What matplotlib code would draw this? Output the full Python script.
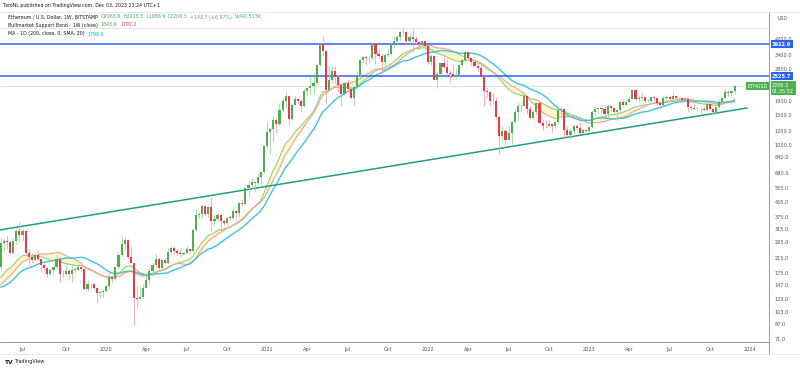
import matplotlib
matplotlib.use('Agg')
import matplotlib.pyplot as plt
import matplotlib.dates as mdates
from matplotlib.ticker import FixedLocator, FixedFormatter, NullLocator
from matplotlib.transforms import blended_transform_factory
from matplotlib.lines import Line2D
import numpy as np
import pandas as pd

# ---------------- data (weekly ETHUSD, Bitstamp) ----------------
# closes before the visible window (only used to warm up the indicators)
warmup_start = '2018-10-15'
warmup_closes = [206, 203, 211, 211, 175, 113, 113, 91, 85, 132, 133, 155, 117, 119, 114, 107,
                 120, 144, 137, 127, 133, 137, 134, 141, 185, 167, 170, 157, 162, 188]

first_week = '2019-05-13'
first_open = 188.0

closes_2019 = [262, 268, 266, 230, 268, 310, 292, 307, 228, 218, 207, 222, 211, 195, 187, 171,
               181, 188, 211, 173, 171, 180, 172, 182, 182, 189, 184, 141, 151, 150, 142, 132, 134, 136]
highs_2019 = [285, 280, 288, 268, 280, 315, 350, 320, 315, 240, 228, 228, 237, 215, 200, 190,
              185, 190, 225, 211, 182, 197, 185, 197, 190, 197, 190, 185, 158, 152, 152, 144, 136, 140]
lows_2019 = [185, 235, 240, 225, 225, 260, 265, 270, 225, 195, 200, 205, 205, 180, 180, 165,
             170, 172, 185, 155, 165, 169, 158, 155, 175, 180, 178, 139, 137, 143, 140, 116, 124, 126]

closes_2020 = [146, 166, 160, 189, 223, 260, 274, 218, 200, 124, 122, 125, 143, 158, 180, 194, 210,
               187, 207, 200, 231, 244, 234, 228, 225, 228, 240, 236, 311, 386, 390, 433, 391, 428, 353,
               365, 385, 355, 345, 370, 369, 405, 396, 454, 448, 550, 575, 600, 590, 640, 685, 975]
highs_2020 = [148, 175, 170, 190, 229, 287, 285, 275, 253, 200, 146, 145, 150, 175, 190, 200, 227,
              216, 210, 215, 245, 253, 250, 240, 246, 232, 250, 243, 315, 415, 400, 440, 442, 435, 488,
              390, 395, 385, 365, 375, 385, 420, 410, 465, 475, 560, 620, 630, 602, 675, 700, 1000]
lows_2020 = [135, 140, 155, 158, 185, 218, 243, 210, 198, 86, 108, 122, 122, 150, 150, 168, 190,
             180, 178, 197, 198, 225, 226, 220, 218, 223, 228, 228, 234, 310, 370, 370, 378, 375, 310,
             330, 355, 310, 335, 335, 360, 365, 370, 375, 435, 440, 480, 545, 535, 580, 560, 680]

closes_2021 = [1190, 1230, 1390, 1315, 1610, 1810, 1930, 1420, 1720, 1860, 1810, 1690, 2080,
               2150, 2230, 2310, 2950, 3900, 3590, 2100, 2390, 2710, 2510, 2240, 1980, 2320,
               2140, 1895, 2190, 2560, 3150, 3270, 3240, 3230, 3950, 3410, 3330, 3060, 3390,
               3410, 3850, 4090, 4290, 4610, 4630, 4080, 4290, 4190, 4050, 3920, 4060, 3830]
highs_2021 = [1350, 1265, 1470, 1440, 1760, 1880, 2040, 1970, 1740, 1940, 1870, 1830, 2140,
              2200, 2550, 2650, 2990, 4000, 4380, 3600, 2900, 2900, 2890, 2620, 2200, 2350,
              2400, 2200, 2200, 2700, 3180, 3330, 3330, 3380, 4030, 3970, 3680, 3450, 3480,
              3650, 3970, 4380, 4460, 4660, 4870, 4700, 4550, 4780, 4370, 4100, 4140, 4100]
lows_2021 = [950, 880, 1040, 1170, 1300, 1560, 1650, 1290, 1400, 1720, 1730, 1550, 1670,
             1930, 1950, 2000, 2250, 2900, 3400, 1730, 2100, 2300, 2300, 2050, 1700, 1960,
             2030, 1850, 1720, 2150, 2450, 3050, 2950, 3040, 3150, 3000, 3240, 2650, 2740,
             3300, 3380, 3700, 3900, 4150, 4450, 3950, 3920, 3500, 3900, 3640, 3900, 3600]

closes_2022 = [3080, 3330, 2410, 2600, 3010, 2870, 2630, 2620, 2550, 2570, 2950, 3140, 3520,
               3260, 3060, 2920, 2830, 2520, 2060, 2050, 1810, 1800, 1450, 1130, 1200, 1070,
               1170, 1360, 1550, 1680, 1700, 1930, 1620, 1430, 1560, 1760, 1340, 1290, 1280,
               1320, 1280, 1360, 1590, 1630, 1220, 1140, 1200, 1280, 1260, 1170, 1220, 1200]
highs_2022 = [3900, 3420, 3390, 2720, 3050, 3280, 3200, 2760, 3000, 2800, 3030, 3180, 3580,
              3550, 3300, 3180, 3030, 2960, 2540, 2150, 2050, 2020, 1920, 1500, 1280, 1230,
              1280, 1380, 1650, 1780, 1770, 2030, 1960, 1700, 1600, 1790, 1790, 1400, 1400,
              1390, 1330, 1370, 1660, 1680, 1650, 1290, 1230, 1300, 1300, 1350, 1230, 1230]
lows_2022 = [3000, 2930, 2400, 2160, 2580, 2840, 2560, 2300, 2540, 2440, 2500, 2860, 3120,
             3170, 2950, 2900, 2700, 2500, 1700, 1900, 1720, 1740, 1420, 880, 1040, 1000,
             1070, 1010, 1340, 1370, 1550, 1690, 1520, 1420, 1420, 1510, 1330, 1220, 1260,
             1270, 1190, 1260, 1330, 1500, 1075, 1130, 1075, 1160, 1220, 1150, 1150, 1180]

closes_2023 = [1265, 1550, 1630, 1645, 1630, 1510, 1680, 1640, 1565, 1590, 1790, 1720, 1795,
               1860, 2090, 1850, 1870, 1900, 1800, 1810, 1910, 1890, 1750, 1720, 1880, 1920,
               1865, 1930, 1890, 1880, 1830, 1850, 1670, 1650, 1630, 1620, 1625, 1590, 1730,
               1630, 1560, 1660, 1780, 1890, 2045, 2010, 2063.6, 2206.3]
highs_2023 = [1280, 1590, 1680, 1660, 1720, 1680, 1740, 1720, 1670, 1600, 1840, 1850, 1840,
              1940, 2140, 2120, 1960, 2020, 1900, 1860, 1920, 1930, 1900, 1770, 1930, 1950,
              1970, 2030, 1930, 1890, 1870, 1870, 1860, 1700, 1740, 1660, 1660, 1680, 1750,
              1750, 1630, 1670, 1860, 1910, 2130, 2100, 2100, 2215.3]
lows_2023 = [1190, 1260, 1500, 1520, 1540, 1460, 1460, 1580, 1540, 1370, 1570, 1690, 1680,
             1780, 1850, 1800, 1790, 1800, 1760, 1780, 1780, 1830, 1720, 1630, 1710, 1840,
             1840, 1850, 1850, 1820, 1800, 1810, 1550, 1610, 1620, 1600, 1530, 1570, 1570,
             1610, 1520, 1540, 1640, 1760, 1870, 1930, 1930, 1986.9]

closes = closes_2019 + closes_2020 + closes_2021 + closes_2022 + closes_2023
highs = highs_2019 + highs_2020 + highs_2021 + highs_2022 + highs_2023
lows = lows_2019 + lows_2020 + lows_2021 + lows_2022 + lows_2023

level_lines = [3922.9, 2525.7]
ath_level = 4868.0
last_price = 2206.3
trend_dates = ['2019-05-11', '2023-12-25']
trend_prices = [313.0, 1643.0]

ytick_vals = [4200, 3400, 2800, 1800, 1500, 1200, 1000, 840, 680, 555, 455, 375, 315, 265,
              215, 175, 147, 123, 103, 87, 71]
xtick_dates = ['2019-07-01', '2019-10-07', '2020-01-06', '2020-04-06', '2020-07-06', '2020-10-05',
               '2021-01-04', '2021-04-05', '2021-07-05', '2021-10-04', '2022-01-03', '2022-04-04',
               '2022-07-04', '2022-10-03', '2023-01-02', '2023-04-03', '2023-07-03', '2023-10-02',
               '2024-01-01']
xtick_labels = ['Jul', 'Oct', '2020', 'Apr', 'Jul', 'Oct', '2021', 'Apr', 'Jul', 'Oct', '2022',
                'Apr', 'Jul', 'Oct', '2023', 'Apr', 'Jul', 'Oct', '2024']

# ---------------- derived series ----------------
dates = pd.date_range(first_week, periods=len(closes), freq='7D')
opens = [first_open] + closes[:-1]
allc = pd.Series(warmup_closes + closes, dtype=float)
nw = len(warmup_closes)
sma20 = allc.rolling(20).mean().values[nw:]
ema21 = allc.ewm(span=21, adjust=False).mean().values[nw:]
ma200d = allc.rolling(28).mean().values[nw:]

GREEN = '#4caf50'
RED = '#f23645'
W, H = 800, 370
fig = plt.figure(figsize=(W / 100, H / 100), dpi=100)
fig.patch.set_facecolor('white')
ax = fig.add_axes([0, 28 / H, 769 / W, 330 / H])
ax.set_yscale('log')

x = mdates.date2num(dates)
o = np.array(opens, float); c = np.array(closes, float)
h = np.array(highs, float); l = np.array(lows, float)
up = c >= o
cols = np.where(up, GREEN, RED)
wick_cols = np.where(up, '#9fd4a1', '#f7a1a8')

# indicators
ax.fill_between(x, sma20, ema21, color='#fff3a0', alpha=0.55, lw=0, zorder=1)
ax.plot(x, ema21, color='#8fcf7f', lw=0.8, zorder=2)
ax.plot(x, sma20, color='#f7a08f', lw=0.8, zorder=2)
ax.plot(x, ma200d, color='#3cc4dc', lw=1.0, zorder=2)

# reference lines
ax.axhline(ath_level, color='#dcdee3', lw=0.6, zorder=1)
ax.axhline(last_price, color='#cfe9cf', lw=0.6, zorder=1)
for lv in level_lines:
    ax.axhline(lv, color='#2962ff', lw=1.1, zorder=3)
ax.plot(mdates.date2num(pd.to_datetime(trend_dates)), trend_prices, color='#1f9e86', lw=1.1, zorder=3)

# candles
ax.vlines(x, l, h, colors=wick_cols, lw=0.6, zorder=4)
body = np.maximum(np.abs(c - o), 0.006 * c)
ax.bar(x, body, bottom=np.minimum(o, c), width=4.8, color=cols, lw=0, zorder=5)

# scales
left = mdates.date2num(pd.Timestamp('2019-07-01')) - 22.5 / 3.096 * 7
right = left + 769 / 3.096 * 7
ax.set_xlim(left, right)
ax.set_ylim(68.16, 6064)

ax.yaxis.tick_right()
ax.yaxis.set_major_locator(FixedLocator(ytick_vals))
ax.yaxis.set_major_formatter(FixedFormatter([f'{v:.1f}' for v in ytick_vals]))
ax.yaxis.set_minor_locator(NullLocator())
ax.xaxis.set_major_locator(FixedLocator(mdates.date2num(pd.to_datetime(xtick_dates))))
ax.xaxis.set_major_formatter(FixedFormatter(xtick_labels))
ax.xaxis.set_minor_locator(NullLocator())
ax.tick_params(axis='y', length=0, pad=4, labelsize=3.6, labelcolor='#50535e')
ax.tick_params(axis='x', length=0, pad=3.5, labelsize=3.6, labelcolor='#50535e')
for s in ['left']:
    ax.spines[s].set_visible(False)
ax.spines['top'].set_color('#e0e3eb'); ax.spines['top'].set_linewidth(0.6)
ax.spines['right'].set_color('#9598a1'); ax.spines['right'].set_linewidth(0.7)
ax.spines['bottom'].set_color('#9598a1'); ax.spines['bottom'].set_linewidth(0.7)

# frame pieces of the time/price axes
fig.add_artist(Line2D([769 / W, 769 / W], [1 - 342 / H, 1 - 354 / H], color='#9598a1', lw=0.7))
fig.add_artist(Line2D([0, 800 / W], [1 - 354 / H, 1 - 354 / H], color='#e0e3eb', lw=0.6))
fig.add_artist(Line2D([769 / W, 800 / W], [1 - 12 / H, 1 - 12 / H], color='#e0e3eb', lw=0.6))

# price tags
trans = blended_transform_factory(ax.transAxes, ax.transData)
for lv in level_lines:
    ax.text(1 + 3 / 769, lv, f'{lv:.1f}', transform=trans, ha='left', va='center', fontsize=3.6,
            color='white', fontweight='bold',
            bbox=dict(boxstyle='square,pad=0.3', fc='#2962ff', ec='none'), clip_on=False, zorder=10)
ax.annotate(f'{last_price:.1f}\n01:35:52', xy=(1, last_price), xycoords=trans,
            xytext=(2.2, 2.6), textcoords='offset points', ha='left', va='top', fontsize=3.5,
            color='white', linespacing=1.25,
            bbox=dict(boxstyle='square,pad=0.3', fc=GREEN, ec='none'), annotation_clip=False, zorder=10)
ax.text(1 - 1.5 / 769, last_price, 'ETHUSD', transform=trans, ha='right', va='center', fontsize=3.5,
        color='white', bbox=dict(boxstyle='square,pad=0.3', fc=GREEN, ec='none'), zorder=10)
fig.text(778 / W, 1 - 19 / H, 'USD', fontsize=3.4, color='#50535e', ha='left', va='center')

# header
renderer = fig.canvas.get_renderer()


def seg_text(x_px, y_px, segments, size=3.4):
    xp = x_px
    for s, colr, gap in segments:
        t = fig.text(xp / W, 1 - y_px / H, s, fontsize=size, color=colr, ha='left', va='center')
        bb = t.get_window_extent(renderer)
        xp += bb.width + gap


DARK = '#131722'
seg_text(3, 6, [('TaroNL published on TradingView.com, Dec 03, 2023 23:24 UTC+1', DARK, 0)])
seg_text(8, 17, [('Ethereum / U.S. Dollar, 1W, BITSTAMP', DARK, 3),
                 ('O2063.6', GREEN, 2.5), ('H2215.3', GREEN, 2.5), ('L1986.9', GREEN, 2.5),
                 ('C2206.3', GREEN, 2.5), ('+143.7 (+6.97%)', GREEN, 2.5), ('Vol40.513K', GREEN, 0)])
seg_text(8, 25, [('Bullmarket Support Band - 1W (close)', DARK, 3), ('1843.9', GREEN, 2.5),
                 ('1791.2', RED, 0)])
seg_text(8, 34, [('MA - 1D (200, close, 0, SMA, 20)', DARK, 3), ('1798.6', '#00bcd4', 0)])

# footer logo
fig.text(5 / W, 1 - 362 / H, 'TV', fontsize=4.2, fontweight='bold', color=DARK, ha='left', va='center')
fig.text(14 / W, 1 - 362 / H, 'TradingView', fontsize=3.6, color=DARK, ha='left', va='center')

fig.savefig('out.png', dpi=100, facecolor='white')
